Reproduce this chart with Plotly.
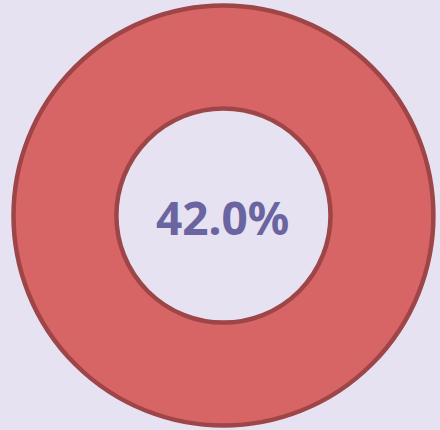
import plotly.graph_objects as go

labels = ["Share"]
values = [42.0]
center_text = "42.0%"

fig = go.Figure(go.Pie(
    labels=labels,
    values=values,
    hole=0.51,
    sort=False,
    textinfo="none",
    hoverinfo="label+value",
    marker=dict(colors=["#D76566"], line=dict(color="#9E4548", width=4.5)),
    domain=dict(x=[0.0307, 0.985], y=[0.0105, 0.987]),
    showlegend=False,
))

fig.add_annotation(
    text="<b>" + center_text + "</b>",
    x=222 / 440, y=1 - 217 / 430, xref="paper", yref="paper",
    showarrow=False,
    font=dict(family="Noto Sans", size=46, color="#6A64A0"),
)

fig.update_layout(
    width=440, height=430,
    margin=dict(l=0, r=0, t=0, b=0),
    paper_bgcolor="#E6E2F2",
    plot_bgcolor="#E6E2F2",
)

fig.write_html(
    "out.html",
    config={"displayModeBar": False},
    post_script="document.body.style.margin='0';document.body.style.background='#E6E2F2';",
)
